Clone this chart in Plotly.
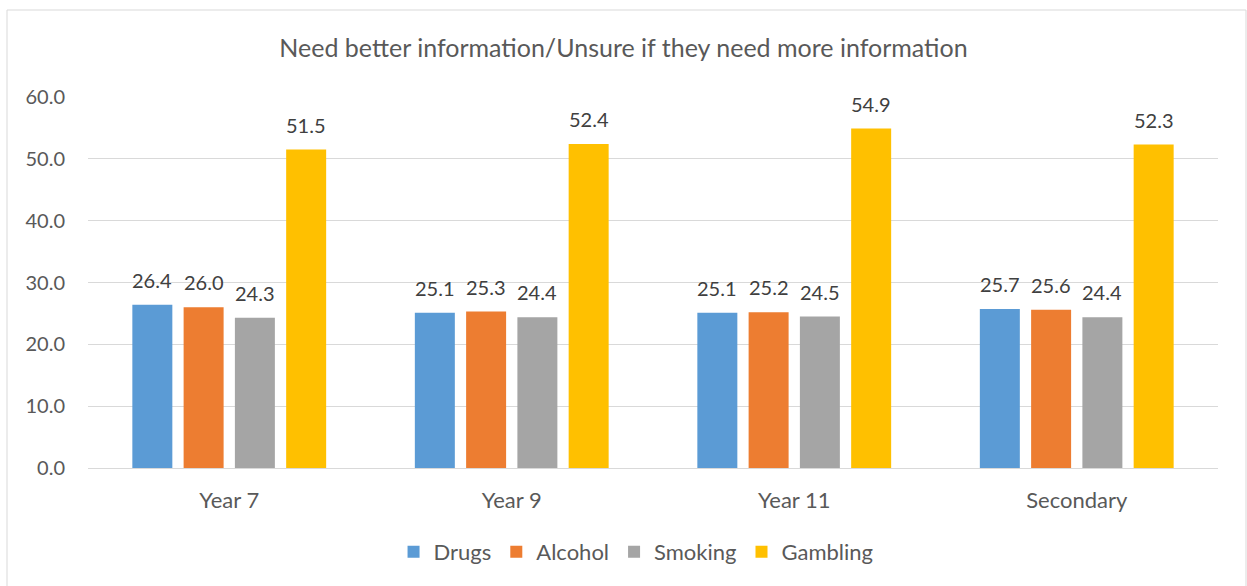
import plotly.graph_objects as go

categories = ["Year 7", "Year 9", "Year 11", "Secondary"]
drugs = [26.4, 25.1, 25.1, 25.7]
alcohol = [26.0, 25.3, 25.2, 25.6]
smoking = [24.3, 24.4, 24.5, 24.4]
gambling = [51.5, 52.4, 54.9, 52.3]

series = [
    ("Drugs", drugs, "#5B9BD5"),
    ("Alcohol", alcohol, "#ED7D31"),
    ("Smoking", smoking, "#A5A5A5"),
    ("Gambling", gambling, "#FFC000"),
]

FONT = "Lato, Open Sans, sans-serif"
BARGAP = 0.274
GROUPGAP = 0.22
PLOT_W = 1247 - 88 - 29
slot_px = PLOT_W / len(categories) * (1 - BARGAP) / len(series)

fig = go.Figure()
annotations = []
for i, (name, vals, color) in enumerate(series):
    fig.add_trace(go.Bar(
        name=name,
        x=categories,
        y=vals,
        marker=dict(color=color, line=dict(width=0)),
    ))
    # value labels above each bar
    for cat, v in zip(categories, vals):
        annotations.append(dict(
            x=cat, y=v, xref="x", yref="y",
            text=f"{v:.1f}", showarrow=False,
            xanchor="center", yanchor="bottom",
            xshift=(i - (len(series) - 1) / 2) * slot_px,
            yshift=11,
            font=dict(family=FONT, size=20, color="#404040"),
        ))

fig.update_layout(
    width=1247,
    height=586,
    margin=dict(l=88, r=29, t=97, b=118),
    paper_bgcolor="white",
    plot_bgcolor="white",
    barmode="group",
    bargap=BARGAP,
    bargroupgap=GROUPGAP,
    font=dict(family=FONT, color="#595959"),
    title=dict(
        text="Need better information/Unsure if they need more information",
        x=0.5, xanchor="center",
        y=1 - 48 / 586, yanchor="middle",
        font=dict(family=FONT, size=25, color="#595959"),
    ),
    legend=dict(
        orientation="h",
        x=0.485, xanchor="center",
        y=-0.226, yanchor="middle",
        font=dict(family=FONT, size=22, color="#595959"),
        itemwidth=30,
        traceorder="normal",
    ),
    xaxis=dict(
        showgrid=False,
        showline=True,
        linecolor="#D9D9D9",
        linewidth=1,
        ticks="",
        ticklabelstandoff=13,
        tickfont=dict(family=FONT, size=22, color="#595959"),
    ),
    yaxis=dict(
        range=[0, 60],
        dtick=10,
        tickformat=".1f",
        showgrid=True,
        gridcolor="#D9D9D9",
        gridwidth=1,
        zeroline=False,
        showline=False,
        ticks="",
        ticklabelstandoff=22,
        tickfont=dict(family=FONT, size=20, color="#595959"),
    ),
    annotations=annotations,
    shapes=[dict(
        type="rect", xref="paper", yref="paper",
        x0=(7 - 88) / PLOT_W, x1=(1246 - 88) / PLOT_W,
        y0=(468 - 590) / 371, y1=(468 - 10) / 371,
        line=dict(color="#D9D9D9", width=1),
        fillcolor="rgba(0,0,0,0)",
        layer="below",
    )],
)

fig.write_html("out.html")
